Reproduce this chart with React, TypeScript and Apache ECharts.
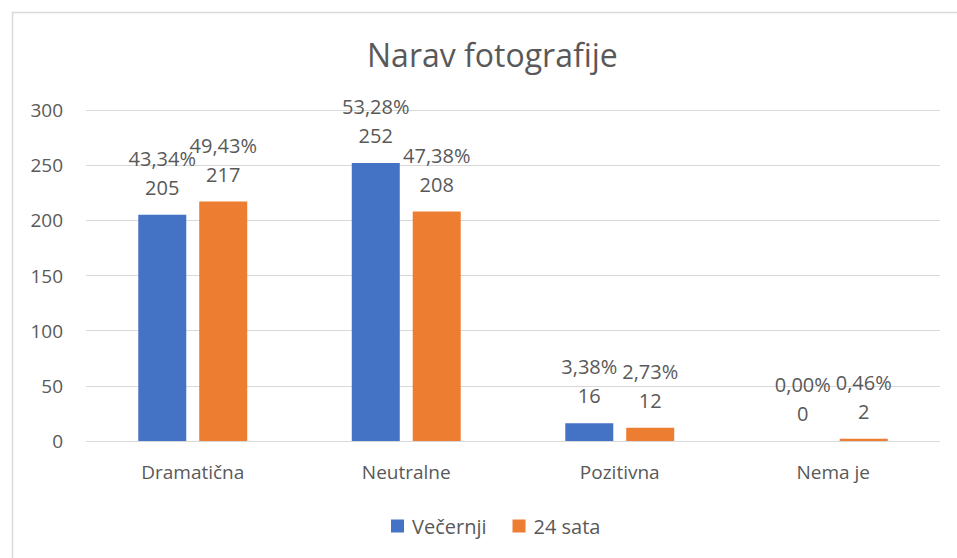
import React, { useEffect, useRef } from "react";
import * as echarts from "echarts";

const categories = ["Dramatična", "Neutralne", "Pozitivna", "Nema je"];
const vecernjiValues = [205, 252, 16, 0];
const vecernjiPct = ["43,34%", "53,28%", "3,38%", "0,00%"];
const sataValues = [217, 208, 12, 2];
const sataPct = ["49,43%", "47,38%", "2,73%", "0,46%"];
const yTicks = { min: 0, max: 300, interval: 50 };

const FONT = "'Open Sans', 'Noto Sans', sans-serif";
const TXT = "#595959";

export default function App() {
  const ref = useRef<HTMLDivElement>(null);
  useEffect(() => {
    if (!ref.current) return;
    const chart = echarts.init(ref.current, null, { renderer: "svg" });
    const labelFor = (pcts: string[]) => ({
      show: true,
      position: "top" as const,
      distance: 13,
      color: TXT,
      fontFamily: FONT,
      fontSize: 20,
      lineHeight: 29,
      formatter: (p: any) => `${pcts[p.dataIndex]}\n${p.value}`,
    });
    chart.setOption({
      animation: false,
      backgroundColor: "#ffffff",
      textStyle: { fontFamily: FONT },
      title: {
        text: "Narav fotografije",
        left: 362,
        top: 33,
        textStyle: { color: TXT, fontFamily: FONT, fontSize: 32, fontWeight: "normal" },
      },
      legend: {
        bottom: 17,
        left: 386,
        itemWidth: 13,
        itemHeight: 13,
        itemGap: 26,
        icon: "rect",
        textStyle: { color: TXT, fontFamily: FONT, fontSize: 20, padding: [0, 0, 0, 3] },
        data: ["Večernji", "24 sata"],
      },
      grid: { left: 86, right: 17, top: 110, bottom: 117, containLabel: false },
      xAxis: {
        type: "category",
        data: categories,
        axisLine: { show: false },
        axisTick: { show: false },
        axisLabel: { color: TXT, fontFamily: FONT, fontSize: 19, margin: 21 },
      },
      yAxis: {
        type: "value",
        min: yTicks.min,
        max: yTicks.max,
        interval: yTicks.interval,
        axisLine: { show: false },
        axisTick: { show: false },
        axisLabel: { color: TXT, fontFamily: FONT, fontSize: 19, margin: 23 },
        splitLine: { lineStyle: { color: "#d9d9d9", width: 1 } },
      },
      series: [
        {
          name: "Večernji",
          type: "bar",
          data: vecernjiValues,
          barWidth: 48,
          barGap: "27%",
          itemStyle: { color: "#4472C4" },
          label: labelFor(vecernjiPct),
        },
        {
          name: "24 sata",
          type: "bar",
          data: sataValues,
          barWidth: 48,
          itemStyle: { color: "#ED7D31" },
          label: labelFor(sataPct),
        },
      ],
      graphic: [
        {
          type: "rect",
          left: 10,
          top: 10,
          shape: { x: 0, y: 0, width: 1000, height: 600 },
          style: { fill: "none", stroke: "#d9d9d9", lineWidth: 1.5 },
          silent: true,
        },
      ],
    });
    return () => chart.dispose();
  }, []);
  return (
    <div
      ref={ref}
      style={{ position: "fixed", left: 0, top: 0, width: 957, height: 558 }}
    />
  );
}
